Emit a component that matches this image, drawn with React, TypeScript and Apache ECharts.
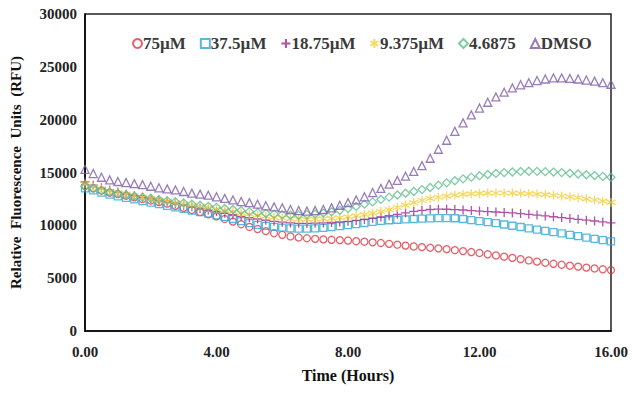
import React, { useEffect, useRef } from "react";
import * as echarts from "echarts";

const TIMES = [
  0, 0.25, 0.5, 0.75, 1, 1.25, 1.5, 1.75, 2, 2.25, 2.5, 2.75, 3, 3.25, 3.5, 3.75,
  4, 4.25, 4.5, 4.75, 5, 5.25, 5.5, 5.75, 6, 6.25, 6.5, 6.75, 7, 7.25, 7.5, 7.75,
  8, 8.25, 8.5, 8.75, 9, 9.25, 9.5, 9.75, 10, 10.25, 10.5, 10.75, 11, 11.25, 11.5, 11.75,
  12, 12.25, 12.5, 12.75, 13, 13.25, 13.5, 13.75, 14, 14.25, 14.5, 14.75, 15, 15.25, 15.5, 15.75, 16,
];

const UM75 = [
  13700, 13500, 13300, 13100, 12950, 12800, 12650, 12500, 12350, 12200, 12050, 11850, 11650, 11450, 11250, 11050,
  10850, 10600, 10350, 10100, 9850, 9650, 9450, 9250, 9100, 8950, 8850, 8780, 8720, 8670, 8630, 8600,
  8560, 8500, 8450, 8390, 8330, 8250, 8170, 8080, 8000, 7940, 7880, 7820, 7750, 7650, 7560, 7470,
  7380, 7260, 7150, 7030, 6920, 6800, 6680, 6570, 6460, 6360, 6270, 6180, 6090, 6000, 5920, 5840, 5760,
];

const UM37_5 = [
  13500, 13300, 13100, 12900, 12750, 12600, 12450, 12300, 12150, 12000, 11850, 11700, 11550, 11400, 11250, 11100,
  10950, 10800, 10600, 10400, 10200, 10050, 9950, 9850, 9780, 9720, 9690, 9690, 9710, 9760, 9830, 9920,
  10020, 10120, 10220, 10320, 10420, 10480, 10530, 10570, 10600, 10630, 10660, 10680, 10690, 10670, 10600, 10500,
  10400, 10300, 10200, 10080, 9960, 9840, 9720, 9600, 9480, 9360, 9230, 9100, 8970, 8840, 8720, 8600, 8480,
];

const UM18_75 = [
  14100, 13800, 13550, 13350, 13150, 12950, 12800, 12650, 12500, 12350, 12200, 12050, 11900, 11750, 11600, 11450,
  11300, 11150, 11000, 10850, 10720, 10600, 10480, 10380, 10300, 10230, 10190, 10180, 10200, 10230, 10270, 10320,
  10380, 10460, 10560, 10670, 10790, 10910, 11040, 11180, 11320, 11420, 11500, 11530, 11520, 11490, 11450, 11400,
  11350, 11300, 11260, 11220, 11170, 11110, 11040, 10970, 10890, 10810, 10730, 10650, 10570, 10490, 10410, 10320, 10230,
];

const UM9_375 = [
  13900, 13650, 13450, 13250, 13100, 12950, 12800, 12650, 12500, 12380, 12260, 12140, 12020, 11900, 11780, 11660,
  11540, 11420, 11300, 11180, 11060, 10950, 10850, 10760, 10690, 10630, 10590, 10570, 10580, 10610, 10660, 10720,
  10800, 10900, 11020, 11150, 11300, 11480, 11690, 11920, 12150, 12350, 12520, 12660, 12770, 12860, 12930, 12980,
  13020, 13050, 13060, 13060, 13050, 13030, 13000, 12960, 12910, 12850, 12780, 12700, 12610, 12510, 12400, 12290, 12170,
];

const UM4_6875 = [
  13700, 13500, 13300, 13150, 13020, 12900, 12780, 12670, 12560, 12450, 12340, 12230, 12120, 12010, 11900, 11800,
  11700, 11600, 11500, 11400, 11300, 11210, 11130, 11060, 11010, 10980, 10980, 11010, 11070, 11160, 11280, 11430,
  11600, 11790, 12000, 12220, 12450, 12670, 12870, 13040, 13200, 13380, 13580, 13800, 14020, 14220, 14400, 14560,
  14700, 14810, 14910, 14990, 15050, 15100, 15120, 15110, 15080, 15040, 14990, 14930, 14860, 14790, 14710, 14630, 14550,
];

const DMSO = [
  15300, 14900, 14550, 14300, 14150, 14050, 13950, 13850, 13700, 13550, 13450, 13350, 13200, 13050, 12950, 12850,
  12700, 12550, 12400, 12250, 12150, 12000, 11850, 11750, 11650, 11500, 11400, 11350, 11400, 11500, 11650, 11900,
  12150, 12400, 12700, 13100, 13500, 13900, 14250, 14650, 15100, 15650, 16350, 17200, 18050, 18900, 19700, 20450,
  21100, 21650, 22150, 22600, 23000, 23300, 23500, 23700, 23850, 23950, 23950, 23900, 23850, 23750, 23650, 23500, 23350,
];

const SERIES_NAMES = ["75µM", "37.5µM", "18.75µM", "9.375µM", "4.6875", "DMSO"];
const SERIES_VALUES = [UM75, UM37_5, UM18_75, UM9_375, UM4_6875, DMSO];
const COLORS = ["#DC3B45", "#2FA6D6", "#9C2890", "#F2D03C", "#5EBE8E", "#7E5BA8"];
const SYMBOLS = [
  "circle",
  "rect",
  "path://M0,5H10M5,0V10",
  "path://M5,0V10M0.7,2.5L9.3,7.5M0.7,7.5L9.3,2.5",
  "diamond",
  "triangle",
];
const SIZES = [7, 7, 9, 9, 8, 8];

const X_TICKS_INTERVAL = 4;
const Y_TICKS_INTERVAL = 5000;

const FONT = "'Liberation Serif', 'Times New Roman', serif";

export default function App() {
  const ref = useRef<HTMLDivElement>(null);
  useEffect(() => {
    if (!ref.current) return;
    const chart = echarts.init(ref.current, undefined, { renderer: "svg" });
    const series = SERIES_NAMES.map((name, i) => ({
      name,
      type: "scatter",
      symbol: SYMBOLS[i],
      symbolSize: SIZES[i],
      data: TIMES.map((t, j) => [t, SERIES_VALUES[i][j]]),
      itemStyle: {
        color: "rgba(255,255,255,0)",
        borderColor: COLORS[i],
        borderWidth: 1.3,
      },
      emphasis: { disabled: true },
    }));
    chart.setOption({
      animation: false,
      backgroundColor: "#fff",
      grid: {
        left: 83,
        right: 21,
        top: 14,
        bottom: 63,
        show: true,
        borderColor: "#222",
        borderWidth: 1.5,
        backgroundColor: "transparent",
      },
      legend: {
        left: 127,
        top: 30,
        itemWidth: 9,
        itemHeight: 9,
        itemGap: 14,
        textStyle: { fontFamily: FONT, fontWeight: "bold", fontSize: 17, color: "#3a3a3a", padding: [0, 0, 0, -4] },
        data: SERIES_NAMES,
      },
      xAxis: {
        type: "value",
        min: 0,
        max: 16,
        interval: X_TICKS_INTERVAL,
        name: "Time (Hours)",
        nameLocation: "middle",
        nameGap: 36,
        nameTextStyle: { fontFamily: FONT, fontWeight: "bold", fontSize: 16, color: "#111" },
        axisLine: { show: true, lineStyle: { color: "#000", width: 1.5 } },
        axisTick: { show: false },
        splitLine: { show: false },
        axisLabel: {
          formatter: (v: number) => v.toFixed(2),
          fontFamily: FONT,
          fontWeight: "bold",
          fontSize: 15,
          color: "#222",
          margin: 13,
        },
      },
      yAxis: {
        type: "value",
        min: 0,
        max: 30000,
        interval: Y_TICKS_INTERVAL,
        name: "Relative  Fluorescence  Units  (RFU)",
        nameLocation: "middle",
        nameGap: 62,
        nameTextStyle: { fontFamily: FONT, fontWeight: "bold", fontSize: 15, color: "#111" },
        axisLine: { show: true, lineStyle: { color: "#000", width: 1.5 } },
        axisTick: { show: false },
        splitLine: { show: false },
        axisLabel: {
          formatter: (v: number) => String(v),
          fontFamily: FONT,
          fontWeight: "bold",
          fontSize: 15,
          color: "#222",
          margin: 8,
        },
      },
      series,
    });
    return () => chart.dispose();
  }, []);
  return (
    <div
      ref={ref}
      style={{ position: "fixed", left: 0, top: 0, width: 632, height: 394, background: "#fff" }}
    />
  );
}
